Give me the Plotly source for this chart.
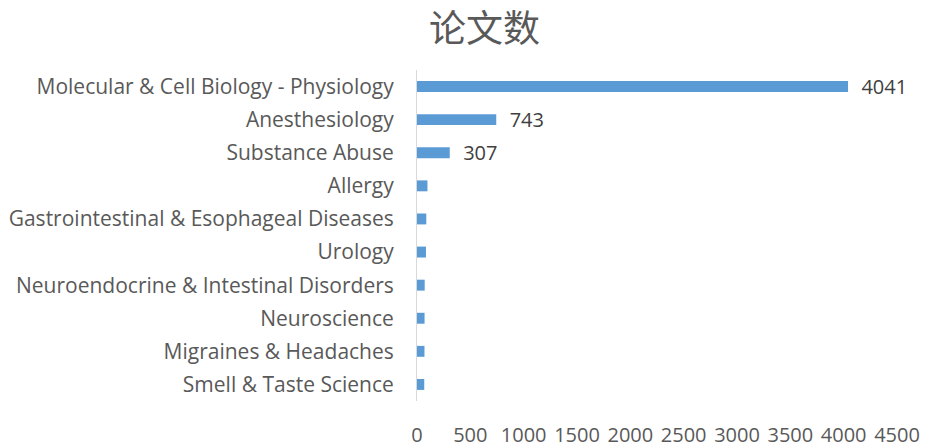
import plotly.graph_objects as go

# Paper counts per research field
categories = [
    "Molecular & Cell Biology - Physiology",
    "Anesthesiology",
    "Substance Abuse",
    "Allergy",
    "Gastrointestinal & Esophageal Diseases",
    "Urology",
    "Neuroendocrine & Intestinal Disorders",
    "Neuroscience",
    "Migraines & Headaches",
    "Smell & Taste Science",
]
counts = [4041, 743, 307, 98, 87, 84, 72, 71, 70, 68]
labelled = {4041, 743, 307}
bar_text = ["  " + str(v) if v in labelled else "" for v in counts]
x_ticks = [0, 500, 1000, 1500, 2000, 2500, 3000, 3500, 4000, 4500]

font_family = "'Open Sans', 'Noto Sans', sans-serif"
gray = "#595959"

fig = go.Figure(
    go.Bar(
        x=counts,
        y=categories,
        orientation="h",
        marker=dict(color="#5B9BD5", line=dict(width=0)),
        text=bar_text,
        textposition="outside",
        constraintext="none",
        cliponaxis=False,
        textfont=dict(size=20, color="#404040", family=font_family),
        hoverinfo="x+y",
    )
)

fig.update_layout(
    width=928,
    height=448,
    margin=dict(l=417, r=31, t=70, b=47),
    paper_bgcolor="white",
    plot_bgcolor="white",
    bargap=0.67,
    showlegend=False,
    title=dict(
        text="论文数",
        x=0.522,
        xanchor="center",
        y=0.935,
        yanchor="middle",
        font=dict(size=37, color=gray, family="'Noto Sans CJK SC', sans-serif"),
    ),
    font=dict(family=font_family, color=gray),
)

fig.update_xaxes(
    range=[0, 4500],
    tickvals=x_ticks,
    ticktext=[str(t) for t in x_ticks],
    showgrid=False,
    zeroline=False,
    showline=False,
    ticks="outside",
    ticklen=16,
    tickcolor="rgba(0,0,0,0)",
    tickfont=dict(size=20, color=gray, family=font_family),
    automargin=False,
    fixedrange=True,
)

fig.update_yaxes(
    autorange="reversed",
    showgrid=False,
    zeroline=False,
    showline=True,
    linecolor="#D9D9D9",
    linewidth=1,
    ticks="outside",
    ticklen=18,
    tickcolor="rgba(0,0,0,0)",
    tickfont=dict(size=21, color=gray, family=font_family),
    automargin=False,
    fixedrange=True,
)

fig.write_html("out.html")
